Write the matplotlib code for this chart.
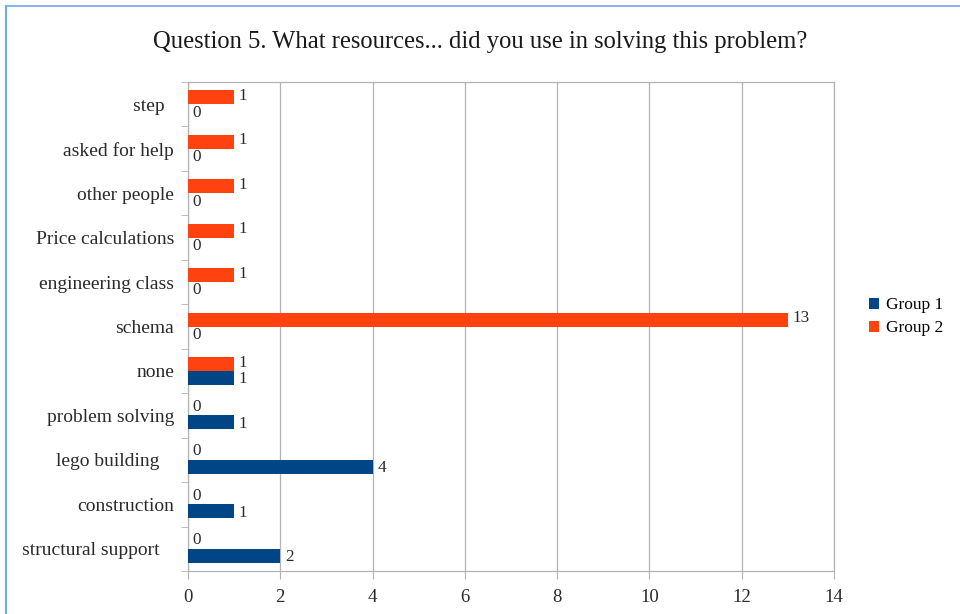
import matplotlib.pyplot as plt
import matplotlib.lines as mlines
import numpy as np

plt.rcParams['font.family'] = ['Liberation Serif', 'DejaVu Serif']

# Categories listed top to bottom
categories = ['step  ', 'asked for help', 'other people', 'Price calculations',
              'engineering class', 'schema', 'none', 'problem solving',
              'lego building   ', 'construction', 'structural support   ']
group1 = [0, 0, 0, 0, 0, 0, 1, 1, 4, 1, 2]
group2 = [1, 1, 1, 1, 1, 13, 1, 0, 0, 0, 0]
xticks = [0, 2, 4, 6, 8, 10, 12, 14]

blue = '#004586'
orange = '#ff420e'
grid_col = '#b3b3b3'
text_col = '#2a2a2a'

fig = plt.figure(figsize=(9.6, 6.14), dpi=100)
ax = fig.add_axes([0.1958, 0.070, 0.673, 0.7964])

n = len(categories)
y = np.arange(n)[::-1]  # first category at the top
h = 0.315

b2 = ax.barh(y + h / 2, group2, height=h, color=orange, label='Group 2', zorder=3)
b1 = ax.barh(y - h / 2, group1, height=h, color=blue, label='Group 1', zorder=3)

# value labels at the bar ends
for yy, v in zip(y, group2):
    ax.annotate(str(v), (v, yy + h / 2), xytext=(3.5, 1), textcoords='offset points',
                va='center', ha='left', fontsize=12.3, color=text_col)
for yy, v in zip(y, group1):
    ax.annotate(str(v), (v, yy - h / 2), xytext=(3.5, -1), textcoords='offset points',
                va='center', ha='left', fontsize=12.3, color=text_col)

ax.set_xlim(0, 14)
ax.set_ylim(-0.5, n - 0.5)
ax.set_xticks(xticks)
ax.set_xticklabels([str(t) for t in xticks], fontsize=13.5, color=text_col)

# category names centred, ticks on the boundaries
ax.set_yticks(y)
ax.set_yticklabels(categories, fontsize=14, color=text_col)
ax.tick_params(axis='y', length=0, pad=10)
ax.set_yticks(np.arange(n + 1) - 0.5, minor=True)
ax.tick_params(axis='y', which='minor', length=5, color=grid_col, direction='out')
ax.tick_params(axis='x', length=6, color=grid_col, pad=7)

ax.grid(axis='x', color=grid_col, linewidth=0.9, zorder=0)
for s in ax.spines.values():
    s.set_color(grid_col)
    s.set_linewidth(0.9)

fig.suptitle('Question 5. What resources... did you use in solving this problem?',
             x=0.5, y=0.95, fontsize=17.7, color='#1a1a1a')

handles = [b1, b2]
ax.legend(handles=handles, labels=['Group 1', 'Group 2'], loc='center left',
          bbox_to_anchor=(1.03, 0.52), frameon=False, fontsize=12.5,
          handlelength=0.6, handleheight=0.6, handletextpad=0.4, labelspacing=0.4)

# thin blue frame on the top and left edges
fig.add_artist(mlines.Line2D([0.0063, 1.0], [0.9895, 0.9895], color='#8ab8e6', linewidth=1.5))
fig.add_artist(mlines.Line2D([0.0063, 0.0063], [0.0, 0.9895], color='#6aaef0', linewidth=1.5))

plt.savefig('out.png', dpi=100)
